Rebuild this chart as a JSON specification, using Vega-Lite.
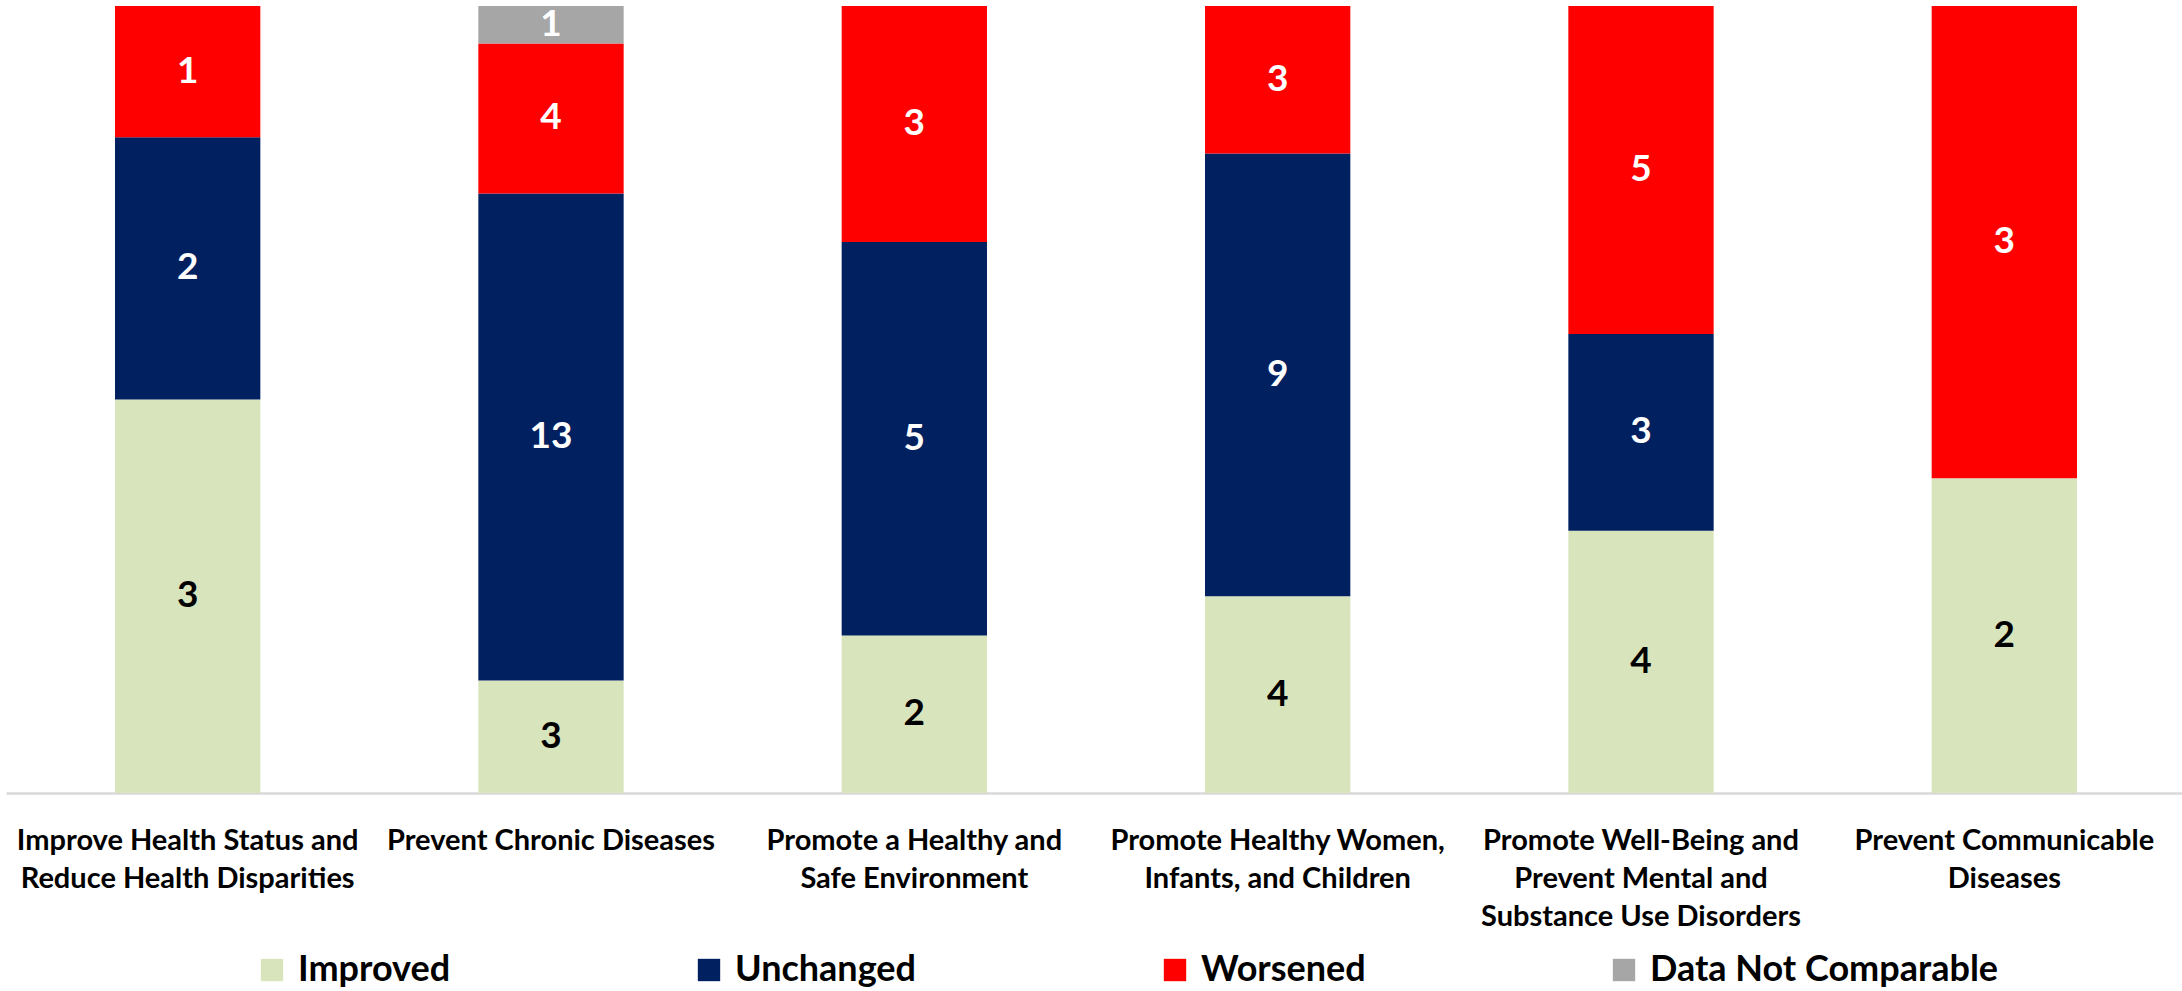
{
  "$schema": "https://vega.github.io/schema/vega-lite/v6.json",
  "width": 2180,
  "height": 787,
  "autosize": {"type": "none"},
  "padding": {"left": 6, "top": 6, "right": 0, "bottom": 198},
  "background": "white",
  "config": {
    "view": {"stroke": null},
    "font": "Lato"
  },
  "datasets": {
    "statusOrder": [
      {"status": "Improved", "k": 1},
      {"status": "Unchanged", "k": 2},
      {"status": "Worsened", "k": 3},
      {"status": "Data Not Comparable", "k": 4}
    ]
  },
  "data": {
    "values": [
      {"goal": "Improve Health Status and\nReduce Health Disparities", "status": "Improved", "n": 3},
      {"goal": "Improve Health Status and\nReduce Health Disparities", "status": "Unchanged", "n": 2},
      {"goal": "Improve Health Status and\nReduce Health Disparities", "status": "Worsened", "n": 1},
      {"goal": "Prevent Chronic Diseases", "status": "Improved", "n": 3},
      {"goal": "Prevent Chronic Diseases", "status": "Unchanged", "n": 13},
      {"goal": "Prevent Chronic Diseases", "status": "Worsened", "n": 4},
      {"goal": "Prevent Chronic Diseases", "status": "Data Not Comparable", "n": 1},
      {"goal": "Promote a Healthy and\nSafe Environment", "status": "Improved", "n": 2},
      {"goal": "Promote a Healthy and\nSafe Environment", "status": "Unchanged", "n": 5},
      {"goal": "Promote a Healthy and\nSafe Environment", "status": "Worsened", "n": 3},
      {"goal": "Promote Healthy Women,\nInfants, and Children", "status": "Improved", "n": 4},
      {"goal": "Promote Healthy Women,\nInfants, and Children", "status": "Unchanged", "n": 9},
      {"goal": "Promote Healthy Women,\nInfants, and Children", "status": "Worsened", "n": 3},
      {"goal": "Promote Well-Being and\nPrevent Mental and\nSubstance Use Disorders", "status": "Improved", "n": 4},
      {"goal": "Promote Well-Being and\nPrevent Mental and\nSubstance Use Disorders", "status": "Unchanged", "n": 3},
      {"goal": "Promote Well-Being and\nPrevent Mental and\nSubstance Use Disorders", "status": "Worsened", "n": 5},
      {"goal": "Prevent Communicable\nDiseases", "status": "Improved", "n": 2},
      {"goal": "Prevent Communicable\nDiseases", "status": "Worsened", "n": 3}
    ]
  },
  "transform": [
    {"lookup": "status", "from": {"data": {"name": "statusOrder"}, "key": "status", "fields": ["k"]}},
    {"stack": "n", "groupby": ["goal"], "sort": [{"field": "k", "order": "ascending"}], "offset": "normalize", "as": ["y0", "y1"]}
  ],
  "encoding": {
    "x": {
      "field": "goal",
      "type": "nominal",
      "sort": null,
      "title": null,
      "scale": {"paddingInner": 0.6, "paddingOuter": 0.3},
      "axis": {
        "labelAngle": 0,
        "labelExpr": "split(datum.value, '\\n')",
        "labelFont": "Lato",
        "labelFontWeight": "bold",
        "labelFontSize": 29,
        "labelLineHeight": 38,
        "labelColor": "#000000",
        "labelPadding": 33,
        "labelLimit": 0,
        "ticks": false,
        "domainColor": "#D9D9D9",
        "domainWidth": 2.5
      }
    }
  },
  "layer": [
    {
      "mark": {"type": "bar"},
      "encoding": {
        "y": {"field": "y0", "type": "quantitative", "scale": {"domain": [0, 1], "nice": false}, "axis": null},
        "y2": {"field": "y1"},
        "color": {
          "field": "status",
          "type": "nominal",
          "scale": {
            "domain": ["Improved", "Unchanged", "Worsened", "Data Not Comparable"],
            "range": ["#D8E4BC", "#002060", "#FF0000", "#A6A6A6"]
          },
          "legend": {
            "title": null,
            "orient": "none",
            "legendX": 248,
            "legendY": 946,
            "direction": "horizontal",
            "symbolType": "square",
            "symbolSize": 500,
            "symbolStrokeWidth": 0,
            "labelFont": "Lato",
            "labelFontWeight": "bold",
            "labelFontSize": 36,
            "labelColor": "#000000",
            "labelOffset": 8,
            "labelLimit": 0,
            "columnPadding": 240
          }
        }
      }
    },
    {
      "transform": [{"fold": ["y0", "y1"], "as": ["edge", "pos"]}],
      "mark": {"type": "text", "font": "Lato", "fontWeight": "bold", "fontSize": 37, "baseline": "middle", "align": "center"},
      "encoding": {
        "y": {"aggregate": "mean", "field": "pos", "type": "quantitative"},
        "detail": {"field": "status"},
        "text": {"field": "n", "type": "quantitative"},
        "color": {"condition": {"test": "datum.status === 'Improved'", "value": "#000000"}, "value": "#FFFFFF"}
      }
    }
  ]
}
